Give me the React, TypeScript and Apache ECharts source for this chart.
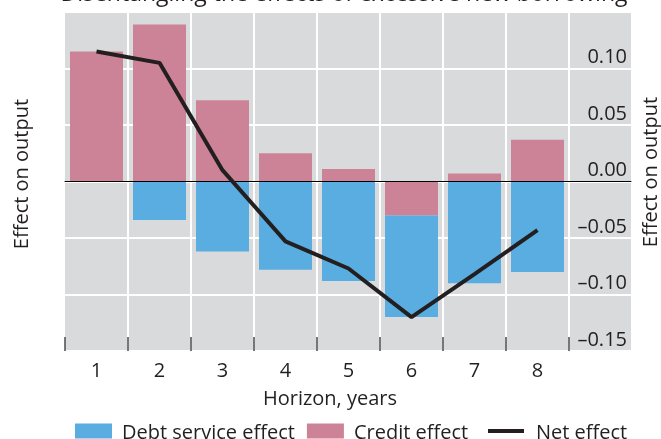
import React, { useEffect, useRef } from 'react';
import * as echarts from 'echarts';

const categories = ['1', '2', '3', '4', '5', '6', '7', '8'];
const debtServiceEffect = [0, -0.034, -0.062, -0.078, -0.088, -0.09, -0.09, -0.08];
const creditEffect = [0.115, 0.139, 0.072, 0.025, 0.011, -0.03, 0.007, 0.037];
const netEffect = [0.115, 0.105, 0.01, -0.053, -0.077, -0.12, -0.082, -0.043];
const yMin = -0.15;
const yMax = 0.15;
const yStep = 0.05;

const FONT = 'Open Sans';
const TEXT = '#231f20';
const BG = '#d9dadc';
const FS = 20;

export default function App() {
  const ref = useRef<HTMLDivElement>(null);
  useEffect(() => {
    const chart = echarts.init(ref.current!, null, { renderer: 'svg' });
    const fmt = (v: number) => (v < 0 ? '–' : '') + Math.abs(v).toFixed(2);
    chart.setOption({
      animation: false,
      textStyle: { fontFamily: FONT },
      grid: [
        { left: 65, top: 12, width: 504, height: 339, show: true, backgroundColor: BG, borderWidth: 0 },
        { left: 569, top: 12, width: 62, height: 339, show: true, backgroundColor: BG, borderWidth: 0 },
      ],
      xAxis: [
        {
          type: 'category', gridIndex: 0, data: categories, position: 'bottom',
          axisLine: { show: false, onZero: false },
          axisTick: { show: true, inside: true, length: 14, lineStyle: { color: '#4a4a4a', width: 1.5 } },
          axisLabel: { margin: 8, fontSize: FS, color: TEXT, fontFamily: FONT },
          splitLine: { show: true, showMinLine: false, showMaxLine: true, lineStyle: { color: '#ffffff', width: 2 } },
        },
        {
          type: 'category', gridIndex: 1, data: [''],
          axisLine: { show: true, onZero: true, lineStyle: { color: '#000', width: 1 } },
          axisTick: { show: false }, axisLabel: { show: false }, splitLine: { show: false }, z: 5,
        },
        {
          type: 'category', gridIndex: 0, data: categories,
          axisLine: { show: true, onZero: true, lineStyle: { color: '#000', width: 1 } },
          axisTick: { show: false }, axisLabel: { show: false }, splitLine: { show: false }, z: 5,
        },
      ],
      yAxis: [
        {
          type: 'value', gridIndex: 0, min: yMin, max: yMax, interval: yStep,
          axisLabel: { show: false }, axisLine: { show: false }, axisTick: { show: false },
          splitLine: { show: true, lineStyle: { color: '#ffffff', width: 2 } },
        },
        {
          type: 'value', gridIndex: 1, position: 'right', min: yMin, max: yMax, interval: yStep,
          axisLine: { show: false }, axisTick: { show: false },
          axisLabel: {
            inside: true, margin: 4, fontSize: FS, color: TEXT, fontFamily: FONT,
            verticalAlign: 'bottom', showMaxLabel: false, formatter: fmt, padding: [0, 0, 3, 0],
          },
          splitLine: { show: true, lineStyle: { color: '#ffffff', width: 2 } },
        },
      ],
      legend: [
        {
          data: ['Debt service effect', 'Credit effect'], left: 75, top: 421, padding: 0,
          itemWidth: 37, itemHeight: 15, itemGap: 12, icon: 'rect',
          textStyle: { fontSize: FS, lineHeight: 18, color: TEXT, fontFamily: FONT, padding: [0, 0, 0, 5] },
        },
        {
          data: ['Net effect'], left: 488, top: 421, padding: 0,
          itemWidth: 36, itemHeight: 4, icon: 'rect',
          textStyle: { fontSize: FS, lineHeight: 18, color: TEXT, fontFamily: FONT, padding: [0, 0, 0, 7] },
        },
      ],
      graphic: [
        {
          type: 'text', x: 344, y: 3,
          style: { text: 'Disentangling the effects of excessive new borrowing', fontSize: 23, fontFamily: FONT, fill: TEXT, align: 'center', verticalAlign: 'bottom' },
        },
        {
          type: 'text', x: 330, y: 397,
          style: { text: 'Horizon, years', fontSize: FS, fontFamily: FONT, fill: TEXT, align: 'center', verticalAlign: 'middle' },
        },
        {
          type: 'text', x: 20, y: 174, rotation: Math.PI / 2,
          style: { text: 'Effect on output', fontSize: FS, fontFamily: FONT, fill: TEXT, align: 'center', verticalAlign: 'middle' },
        },
        {
          type: 'text', x: 649, y: 172, rotation: Math.PI / 2,
          style: { text: 'Effect on output', fontSize: FS, fontFamily: FONT, fill: TEXT, align: 'center', verticalAlign: 'middle' },
        },
      ],
      series: [
        {
          name: 'Credit effect', type: 'bar', stack: 'total', xAxisIndex: 0, yAxisIndex: 0,
          data: creditEffect, barWidth: 53, itemStyle: { color: '#cd8397' },
        },
        {
          name: 'Debt service effect', type: 'bar', stack: 'total', xAxisIndex: 0, yAxisIndex: 0,
          data: debtServiceEffect, barWidth: 53, itemStyle: { color: '#5aade0' },
        },
        {
          name: 'Net effect', type: 'line', xAxisIndex: 0, yAxisIndex: 0, data: netEffect,
          symbol: 'none', z: 10, lineStyle: { color: TEXT, width: 4 }, itemStyle: { color: TEXT },
        },
      ],
    });
    return () => chart.dispose();
  }, []);
  return <div ref={ref} style={{ position: 'fixed', left: 0, top: 0, width: 661, height: 439 }} />;
}
